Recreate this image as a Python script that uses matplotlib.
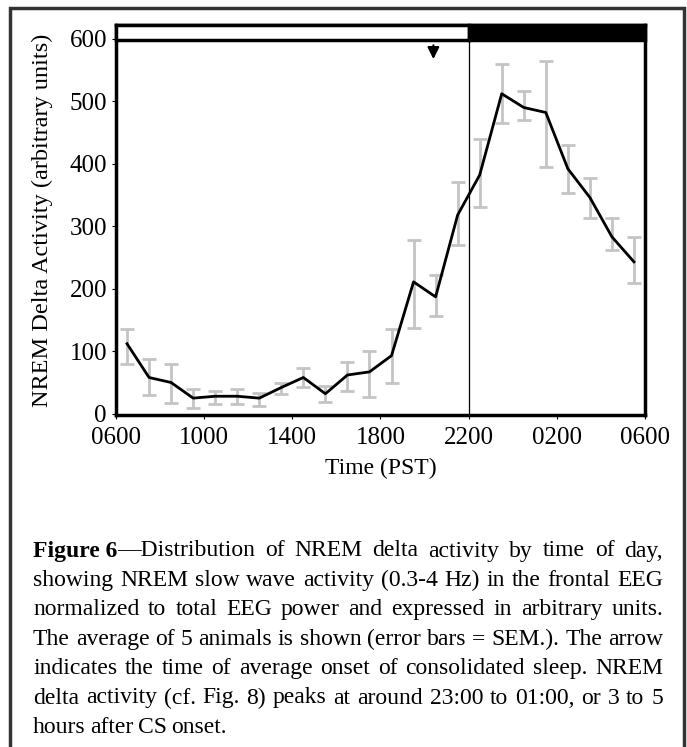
import numpy as np
import matplotlib
matplotlib.use("Agg")
import matplotlib.pyplot as plt
from matplotlib.patches import Rectangle

plt.rcParams["font.family"] = ["Liberation Serif", "DejaVu Serif"]

# hourly bins (hours since midnight, 24+ = next day)
hours = [6.5, 7.5, 8.5, 9.5, 10.5, 11.5, 12.5, 13.5, 14.5, 15.5, 16.5, 17.5,
         18.5, 19.5, 20.5, 21.5, 22.5, 23.5, 24.5, 25.5, 26.5, 27.5, 28.5, 29.5]
delta = [112, 58, 50, 25, 28, 28, 25, 42, 58, 32, 62, 67,
         93, 211, 187, 318, 382, 512, 490, 482, 392, 346, 283, 243]
err_hi = [135, 88, 80, 40, 37, 40, 33, 50, 74, 45, 83, 101,
          136, 278, 222, 371, 440, 560, 517, 565, 430, 378, 314, 283]
err_lo = [80, 30, 18, 10, 15, 15, 12, 32, 43, 19, 37, 27,
          50, 138, 157, 270, 331, 466, 470, 395, 354, 314, 262, 210]

xticks = [6, 10, 14, 18, 22, 26, 30]
xticklabels = ["0600", "1000", "1400", "1800", "2200", "0200", "0600"]
yticks = [0, 100, 200, 300, 400, 500, 600]
lights_off = 22
sleep_onset = 20.4

caption = [
    [[("Figure 6", "bold"), ("\u2014Distribution", "normal")], "of", "NREM", "delta", "activity", "by", "time", "of", "day,"],
    "showing NREM slow wave activity (0.3-4 Hz) in the frontal EEG".split(),
    "normalized to total EEG power and expressed in arbitrary units.".split(),
    "The average of 5 animals is shown (error bars = SEM.). The arrow".split(),
    "indicates the time of average onset of consolidated sleep. NREM".split(),
    "delta activity (cf. Fig. 8) peaks at around 23:00 to 01:00, or 3 to 5".split(),
    "hours after CS onset.".split(),
]

W, H = 687, 747
fig = plt.figure(figsize=(W / 100, H / 100), dpi=100)
ax = fig.add_axes([116 / W, 1 - 415 / H, 529 / W, 390 / H])

y = np.array(delta)
yerr = [y - np.array(err_lo), np.array(err_hi) - y]
ax.errorbar(hours, delta, yerr=yerr, fmt="none", ecolor="#c4c4c4",
            elinewidth=2, capsize=5, capthick=2, zorder=2)
ax.plot(hours, delta, color="black", lw=2, zorder=3)

# light/dark bar
top = 622
ax.add_patch(Rectangle((6, 598), lights_off - 6, top - 598, facecolor="white",
                       edgecolor="black", lw=2.5, zorder=4, clip_on=False))
ax.add_patch(Rectangle((lights_off, 598), 30 - lights_off, top - 598,
                       facecolor="black", edgecolor="black", lw=2.5, zorder=4, clip_on=False))
ax.axvline(lights_off, color="black", lw=0.9, zorder=1)

ax.annotate("", xy=(sleep_onset, 563), xytext=(sleep_onset, 594),
            arrowprops=dict(arrowstyle="-|>,head_width=0.35,head_length=0.7",
                            color="black", lw=1.5))

ax.set_xlim(6, 30)
ax.set_ylim(-2, top)
ax.set_xticks(xticks)
ax.set_xticklabels(xticklabels)
ax.set_yticks(yticks)
ax.tick_params(labelsize=18, length=3, width=0.8)
ax.tick_params(axis="x", pad=6)
for s in ax.spines.values():
    s.set_linewidth(2.5)
ax.set_ylabel("NREM Delta Activity (arbitrary units)", fontsize=17.5, labelpad=12)
ax.set_xlabel("Time (PST)", fontsize=17, labelpad=6)

# outer frame
fig.add_artist(Rectangle((10 / W, -0.02), 674 / W, 1.02 - 8 / H,
                         transform=fig.transFigure, fill=False,
                         edgecolor="#333333", lw=2.5))

# justified caption
renderer = fig.canvas.get_renderer()
fs = 17
x0, x1 = 33, 663


def word_width(segs):
    w = 0
    for txt, wt in segs:
        t = fig.text(0, 0, txt, fontsize=fs, fontweight=wt)
        w += t.get_window_extent(renderer).width
        t.remove()
    return w


for i, line in enumerate(caption):
    words = [w if isinstance(w, list) else [(w, "normal")] for w in line]
    widths = [word_width(w) for w in words]
    ypix = 551 + i * 29.4
    last = i == len(caption) - 1
    gap = 4.5 if last else (x1 - x0 - sum(widths)) / (len(words) - 1)
    xp = x0
    for segs, ww in zip(words, widths):
        xs = xp
        for txt, wt in segs:
            t = fig.text(xs / W, 1 - ypix / H, txt, fontsize=fs, fontweight=wt,
                         va="center", ha="left")
            xs += t.get_window_extent(renderer).width
        xp += ww + gap

fig.savefig("out.png", dpi=100)
